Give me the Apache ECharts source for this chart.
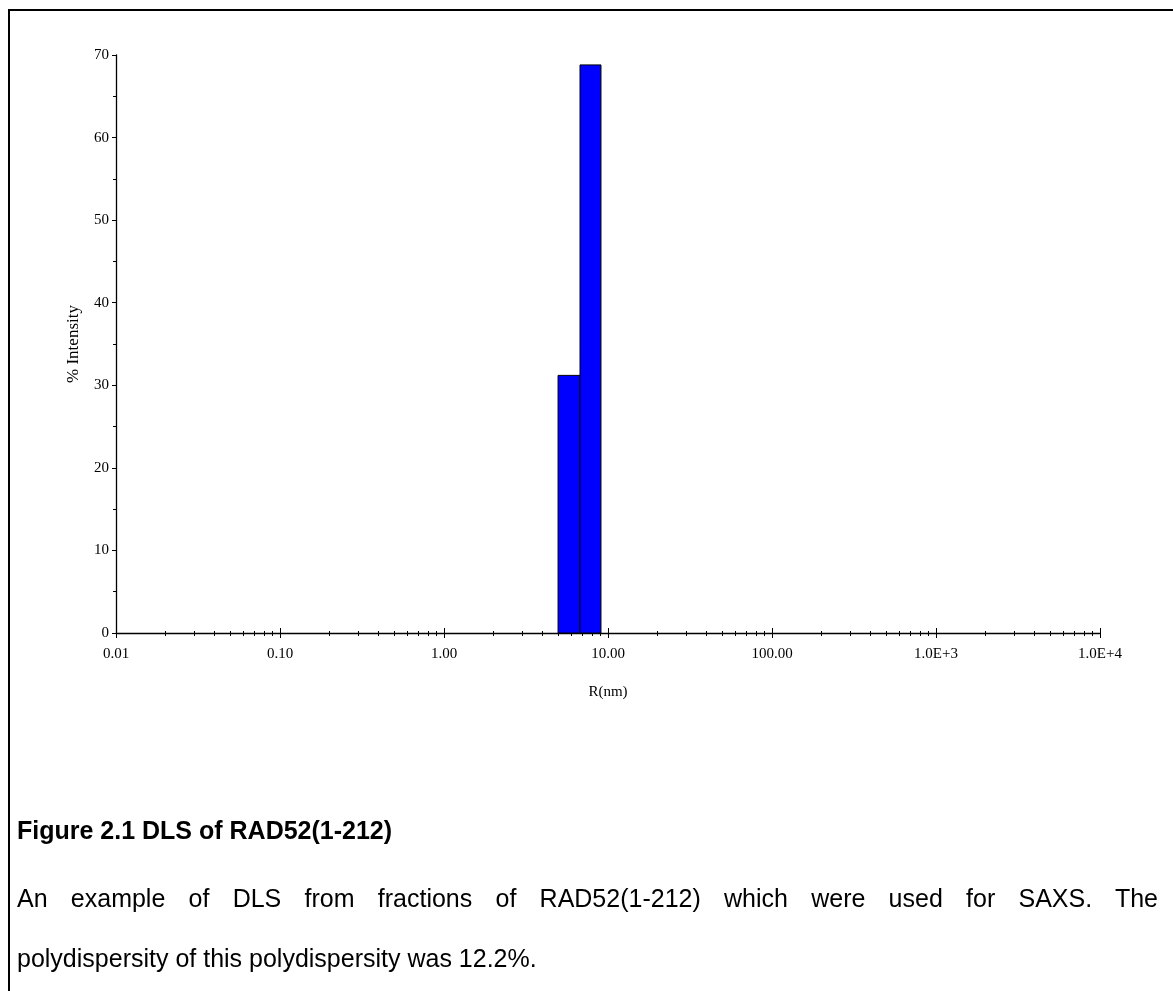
<!DOCTYPE html>
<html><head><meta charset="utf-8">
<script src="https://cdn.jsdelivr.net/npm/echarts@6/dist/echarts.min.js"></script>
<style>
html,body{margin:0;padding:0;background:#fff;}
#wrap{position:relative;width:1173px;height:991px;overflow:hidden;background:#fff;}
#frame{position:absolute;left:8px;top:9px;width:1300px;height:1200px;border-top:2px solid #000;border-left:2px solid #000;}
#chart{position:absolute;left:0;top:0;width:1173px;height:991px;}
.cap{position:absolute;left:17px;font-family:"Liberation Sans",Arial,sans-serif;font-size:25px;line-height:30px;color:#000;white-space:nowrap;}
</style></head><body>
<div id="wrap">
<div id="frame"></div>
<div id="chart"></div>
<div class="cap" style="top:815px;font-weight:bold;">Figure 2.1 DLS of RAD52(1-212)</div>
<div class="cap" style="top:883px;width:1141px;text-align:justify;text-align-last:justify;white-space:normal;">An example of DLS from fractions of RAD52(1-212) which were used for SAXS. The</div>
<div class="cap" style="top:943px;">polydispersity of this polydispersity was 12.2%.</div>
</div>
<script>
// Data: DLS size-distribution histogram bins (R in nm) and % intensity
const binLow = [4.96, 6.75];
const binHigh = [6.75, 9.06];
const intensity = [31.2, 68.8];
// Axis ticks
const xMin = 0.01, xMax = 10000;
const yMin = 0, yMax = 70, yStep = 10;
const minorX = [];
for (let e = -2; e < 4; e++) { for (let k = 2; k <= 9; k++) minorX.push(+(k * Math.pow(10, e)).toPrecision(3)); }

const font = '"Liberation Serif","Times New Roman",serif';
function fmtX(v) {
  const e = Math.round(Math.log10(v));
  if (e >= 3) return '1.0E+' + e;
  return (Math.pow(10, e)).toFixed(2);
}
const chart = echarts.init(document.getElementById('chart'), null, {renderer: 'canvas'});
const baseX = {
  type: 'log', logBase: 10, min: xMin, max: xMax, position: 'bottom',
  gridIndex: 0, splitLine: {show: false}
};
chart.setOption({
  animation: false,
  grid: {left: 116, right: 73, top: 55, bottom: 358, containLabel: false},
  xAxis: [
    Object.assign({}, baseX, {
      name: 'R(nm)', nameLocation: 'middle', nameGap: 52,
      nameTextStyle: {fontFamily: font, fontSize: 15, color: '#000'},
      axisLine: {lineStyle: {color: '#000', width: 1.3}},
      axisTick: {show: true, length: 5, lineStyle: {color: '#000'}},
      axisLabel: {formatter: fmtX, fontFamily: font, fontSize: 15, color: '#000', margin: 14}
    }),
    Object.assign({}, baseX, {
      axisLine: {show: false}, axisLabel: {show: false},
      axisTick: {show: true, inside: true, length: 5, lineStyle: {color: '#000'}}
    }),
    Object.assign({}, baseX, {
      axisLine: {show: false}, axisLabel: {show: false},
      axisTick: {show: true, length: 3, customValues: minorX, lineStyle: {color: '#000'}}
    }),
    Object.assign({}, baseX, {
      axisLine: {show: false}, axisLabel: {show: false},
      axisTick: {show: true, inside: true, length: 2, customValues: minorX, lineStyle: {color: '#000'}}
    })
  ],
  yAxis: [
    {
      type: 'value', min: yMin, max: yMax, interval: yStep,
      name: '% Intensity', nameLocation: 'middle', nameGap: 34,
      nameTextStyle: {fontFamily: font, fontSize: 17, color: '#000'},
      axisLine: {show: true, lineStyle: {color: '#000', width: 1.3}},
      axisTick: {show: true, length: 4, lineStyle: {color: '#000'}},
      minorTick: {show: true, splitNumber: 2, length: 3, lineStyle: {color: '#000'}},
      axisLabel: {fontFamily: font, fontSize: 15, color: '#000', margin: 7},
      splitLine: {show: false}
    },
    {
      type: 'value', min: yMin, max: yMax, interval: yStep, position: 'left',
      axisLine: {show: false}, axisLabel: {show: false}, splitLine: {show: false},
      axisTick: {show: false},
      minorTick: {show: true, splitNumber: 2, length: 3, lineStyle: {color: '#000'}}
    }
  ],
  series: [{
    type: 'custom', xAxisIndex: 0, yAxisIndex: 0,
    data: binLow.map((lo, i) => [lo, binHigh[i], intensity[i]]),
    encode: {x: [0, 1], y: 2},
    renderItem: function (params, api) {
      const p0 = api.coord([api.value(0), 0]);
      const p1 = api.coord([api.value(1), api.value(2)]);
      return {
        type: 'rect',
        shape: {x: p0[0], y: p1[1], width: p1[0] - p0[0], height: p0[1] - p1[1]},
        style: {fill: '#0000ff', stroke: '#000', lineWidth: 1}
      };
    }
  }]
});
</script>
</body></html>
